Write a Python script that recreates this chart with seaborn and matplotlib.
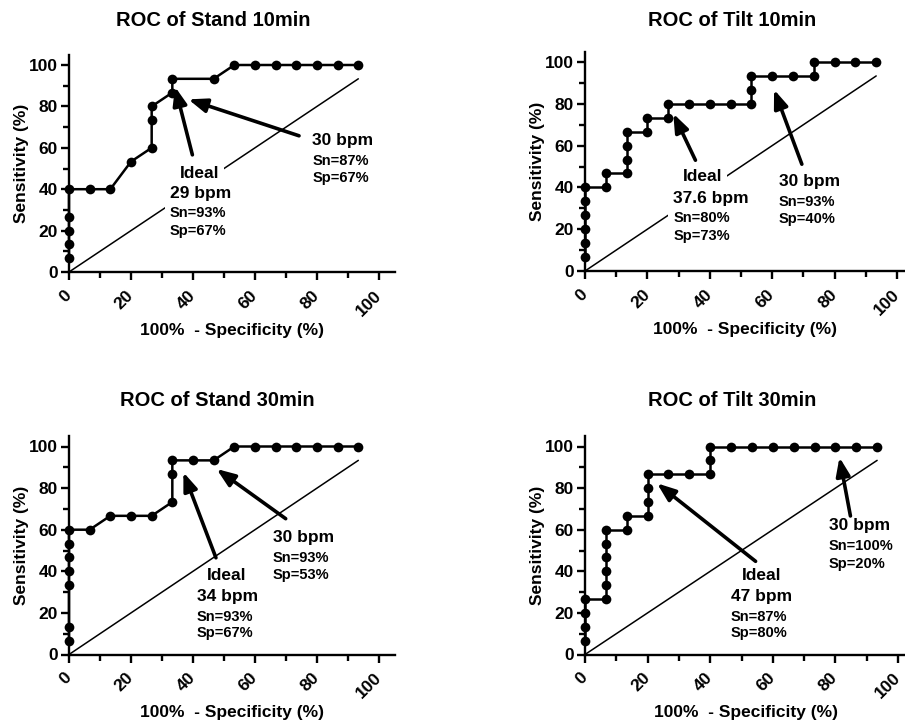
import numpy as np
import pandas as pd
import seaborn as sns
import matplotlib.pyplot as plt
from matplotlib.ticker import MultipleLocator

# ROC points: x = 100% - specificity, y = sensitivity
stand10_fpr = [0, 0, 0, 0, 0, 6.67, 13.33, 20, 26.67, 26.67, 26.67, 33.33, 33.33,
               46.67, 53.33, 60, 66.67, 73.33, 80, 86.67, 93.33]
stand10_sn = [6.67, 13.33, 20, 26.67, 40, 40, 40, 53.33, 60, 73.33, 80, 86.67, 93.33,
              93.33, 100, 100, 100, 100, 100, 100, 100]

tilt10_fpr = [0, 0, 0, 0, 0, 0, 6.67, 6.67, 13.33, 13.33, 13.33, 13.33, 20, 20,
              26.67, 26.67, 33.33, 40, 46.67, 53.33, 53.33, 53.33, 60, 66.67,
              73.33, 73.33, 80, 86.67, 93.33]
tilt10_sn = [6.67, 13.33, 20, 26.67, 33.33, 40, 40, 46.67, 46.67, 53.33, 60, 66.67,
             66.67, 73.33, 73.33, 80, 80, 80, 80, 80, 86.67, 93.33, 93.33, 93.33,
             93.33, 100, 100, 100, 100]

stand30_fpr = [0, 0, 0, 0, 0, 0, 0, 6.67, 13.33, 20, 26.67, 33.33, 33.33, 33.33,
               40, 46.67, 53.33, 60, 66.67, 73.33, 80, 86.67, 93.33]
stand30_sn = [6.67, 13.33, 33.33, 40, 46.67, 53.33, 60, 60, 66.67, 66.67, 66.67,
              73.33, 86.67, 93.33, 93.33, 93.33, 100, 100, 100, 100, 100, 100, 100]

tilt30_fpr = [0, 0, 0, 0, 6.67, 6.67, 6.67, 6.67, 6.67, 6.67, 13.33, 13.33,
              20, 20, 20, 20, 26.67, 33.33, 40, 40, 40, 46.67, 53.33, 60, 66.67,
              73.33, 80, 86.67, 93.33]
tilt30_sn = [6.67, 13.33, 20, 26.67, 26.67, 33.33, 40, 46.67, 53.33, 60, 60, 66.67,
             66.67, 73.33, 80, 86.67, 86.67, 86.67, 86.67, 93.33, 100, 100, 100, 100,
             100, 100, 100, 100, 100]

titles = ['ROC of Stand 10min', 'ROC of Tilt 10min', 'ROC of Stand 30min', 'ROC of Tilt 30min']

# annotation texts
ideal_txt = [['Ideal', '29 bpm', 'Sn=93%', 'Sp=67%'],
             ['Ideal', '37.6 bpm', 'Sn=80%', 'Sp=73%'],
             ['Ideal', '34 bpm', 'Sn=93%', 'Sp=67%'],
             ['Ideal', '47 bpm', 'Sn=87%', 'Sp=80%']]
cut_txt = [['30 bpm', 'Sn=87%', 'Sp=67%'],
           ['30 bpm', 'Sn=93%', 'Sp=40%'],
           ['30 bpm', 'Sn=93%', 'Sp=53%'],
           ['30 bpm', 'Sn=100%', 'Sp=20%']]

sns.set_style('ticks')
plt.rcParams['font.family'] = ['Liberation Sans', 'DejaVu Sans']
plt.rcParams['font.weight'] = 'bold'
plt.rcParams['axes.labelweight'] = 'bold'
for k in ['text.color', 'axes.labelcolor', 'xtick.color', 'ytick.color', 'axes.edgecolor']:
    plt.rcParams[k] = 'black'

W, H = 905, 721
fig = plt.figure(figsize=(W / 100, H / 100), dpi=100)

# layout (pixels): origin of axes, px per unit, xmax, title center, text box pad
layout = [
    dict(x0=69, y0=272, xs=3.10, ys=2.07, xmax=105, tx=213, ty=21, pad=3.5),
    dict(x0=585, y0=271, xs=3.12, ys=2.09, xmax=102.8, tx=732, ty=20, pad=3.5),
    dict(x0=69, y0=654.5, xs=3.10, ys=2.08, xmax=105, tx=217, ty=401, pad=0.5),
    dict(x0=585, y0=654.5, xs=3.13, ys=2.08, xmax=102.6, tx=732, ty=401, pad=0.5),
]

# text positions: (x_left, y_center) per line, arrow tail / head
ideal_pos = [
    dict(xy=[(35.8, 47.7), (32.6, 37.8), (32.6, 28.5), (32.6, 19.6)], tail=(39.8, 56.6), head=(34.2, 89.5)),
    dict(xy=[(31.3, 45.0), (28.3, 34.7), (28.3, 25.2), (28.3, 16.7)], tail=(35.4, 53.0), head=(28.3, 75.3)),
    dict(xy=[(44.6, 37.9), (41.2, 27.9), (41.2, 18.2), (41.2, 10.2)], tail=(47.4, 46.5), head=(36.9, 87.6)),
    dict(xy=[(50.1, 37.9), (46.5, 27.9), (46.5, 18.2), (46.5, 10.2)], tail=(54.5, 44.8), head=(23.0, 82.3)),
]
cut_pos = [
    dict(xy=[(78.5, 63.3), (78.5, 53.4), (78.5, 45.3)], tail=(74.2, 65.8), head=(38.5, 83.4)),
    dict(xy=[(62.2, 43.0), (62.2, 33.1), (62.2, 24.8)], tail=(69.5, 51.1), head=(60.6, 86.8)),
    dict(xy=[(65.7, 56.1), (65.7, 46.5), (65.7, 38.0)], tail=(69.9, 65.3), head=(47.6, 89.2)),
    dict(xy=[(77.9, 61.8), (77.9, 52.1), (77.9, 43.7)], tail=(84.8, 66.6), head=(81.3, 94.8)),
]

data = [(stand10_fpr, stand10_sn), (tilt10_fpr, tilt10_sn),
        (stand30_fpr, stand30_sn), (tilt30_fpr, tilt30_sn)]

big, small = 12.5, 10.5
arrow = dict(arrowstyle='-|>,head_length=1.1,head_width=0.42', lw=2.6,
             color='black', shrinkA=0, shrinkB=0)

for i in range(4):
    L = layout[i]
    rect = [L['x0'] / W, 1 - L['y0'] / H, L['xmax'] * L['xs'] / W, 105 * L['ys'] / H]
    ax = fig.add_axes(rect)
    fpr, sn = data[i]
    df = pd.DataFrame({'fpr': fpr, 'sn': sn})

    # chance line, behind everything
    d = max(fpr)
    ax.plot([0, d], [0, d], color='black', lw=1.1, zorder=1, clip_on=False)

    sns.lineplot(data=df, x='fpr', y='sn', estimator=None, sort=False, ax=ax,
                 color='black', lw=1.8, marker='o', markersize=7, markeredgecolor='black',
                 markeredgewidth=0, zorder=3, clip_on=False)

    ax.set_xlim(0, L['xmax'])
    ax.set_ylim(0, 105)
    sns.despine(ax=ax)
    for s in ['left', 'bottom']:
        ax.spines[s].set_linewidth(1.7)
    ax.set_xticks(range(0, 101, 20))
    ax.set_yticks(range(0, 101, 20))
    ax.xaxis.set_minor_locator(MultipleLocator(10))
    ax.yaxis.set_minor_locator(MultipleLocator(10))
    ax.tick_params(which='major', length=6, width=1.7, labelsize=12.5, pad=2)
    ax.tick_params(which='minor', length=4, width=1.7)
    plt.setp(ax.get_xticklabels(), rotation=45, ha='right', va='center', rotation_mode='anchor')
    ax.tick_params(axis='x', pad=9)
    ax.set_xlabel('100%  - Specificity (%)', fontsize=12.5, labelpad=3)
    ax.set_ylabel('Sensitivity (%)', fontsize=12.5, labelpad=0)
    fig.text(L['tx'] / W, 1 - L['ty'] / H, titles[i], ha='center', va='center',
             fontsize=14.5, fontweight='bold')

    box = dict(facecolor='white', edgecolor='none', pad=L['pad'])
    P = ideal_pos[i]
    for k, t in enumerate(ideal_txt[i]):
        ax.text(P['xy'][k][0], P['xy'][k][1], t, ha='left', va='center',
                fontsize=big if k < 2 else small, fontweight='bold', bbox=box, zorder=4)
    ax.annotate('', xy=P['head'], xytext=P['tail'], arrowprops=arrow, zorder=5)
    P = cut_pos[i]
    for k, t in enumerate(cut_txt[i]):
        ax.text(P['xy'][k][0], P['xy'][k][1], t, ha='left', va='center',
                fontsize=big if k < 1 else small, fontweight='bold', bbox=box, zorder=4)
    ax.annotate('', xy=P['head'], xytext=P['tail'], arrowprops=arrow, zorder=5)

fig.savefig('out.png', dpi=100)
